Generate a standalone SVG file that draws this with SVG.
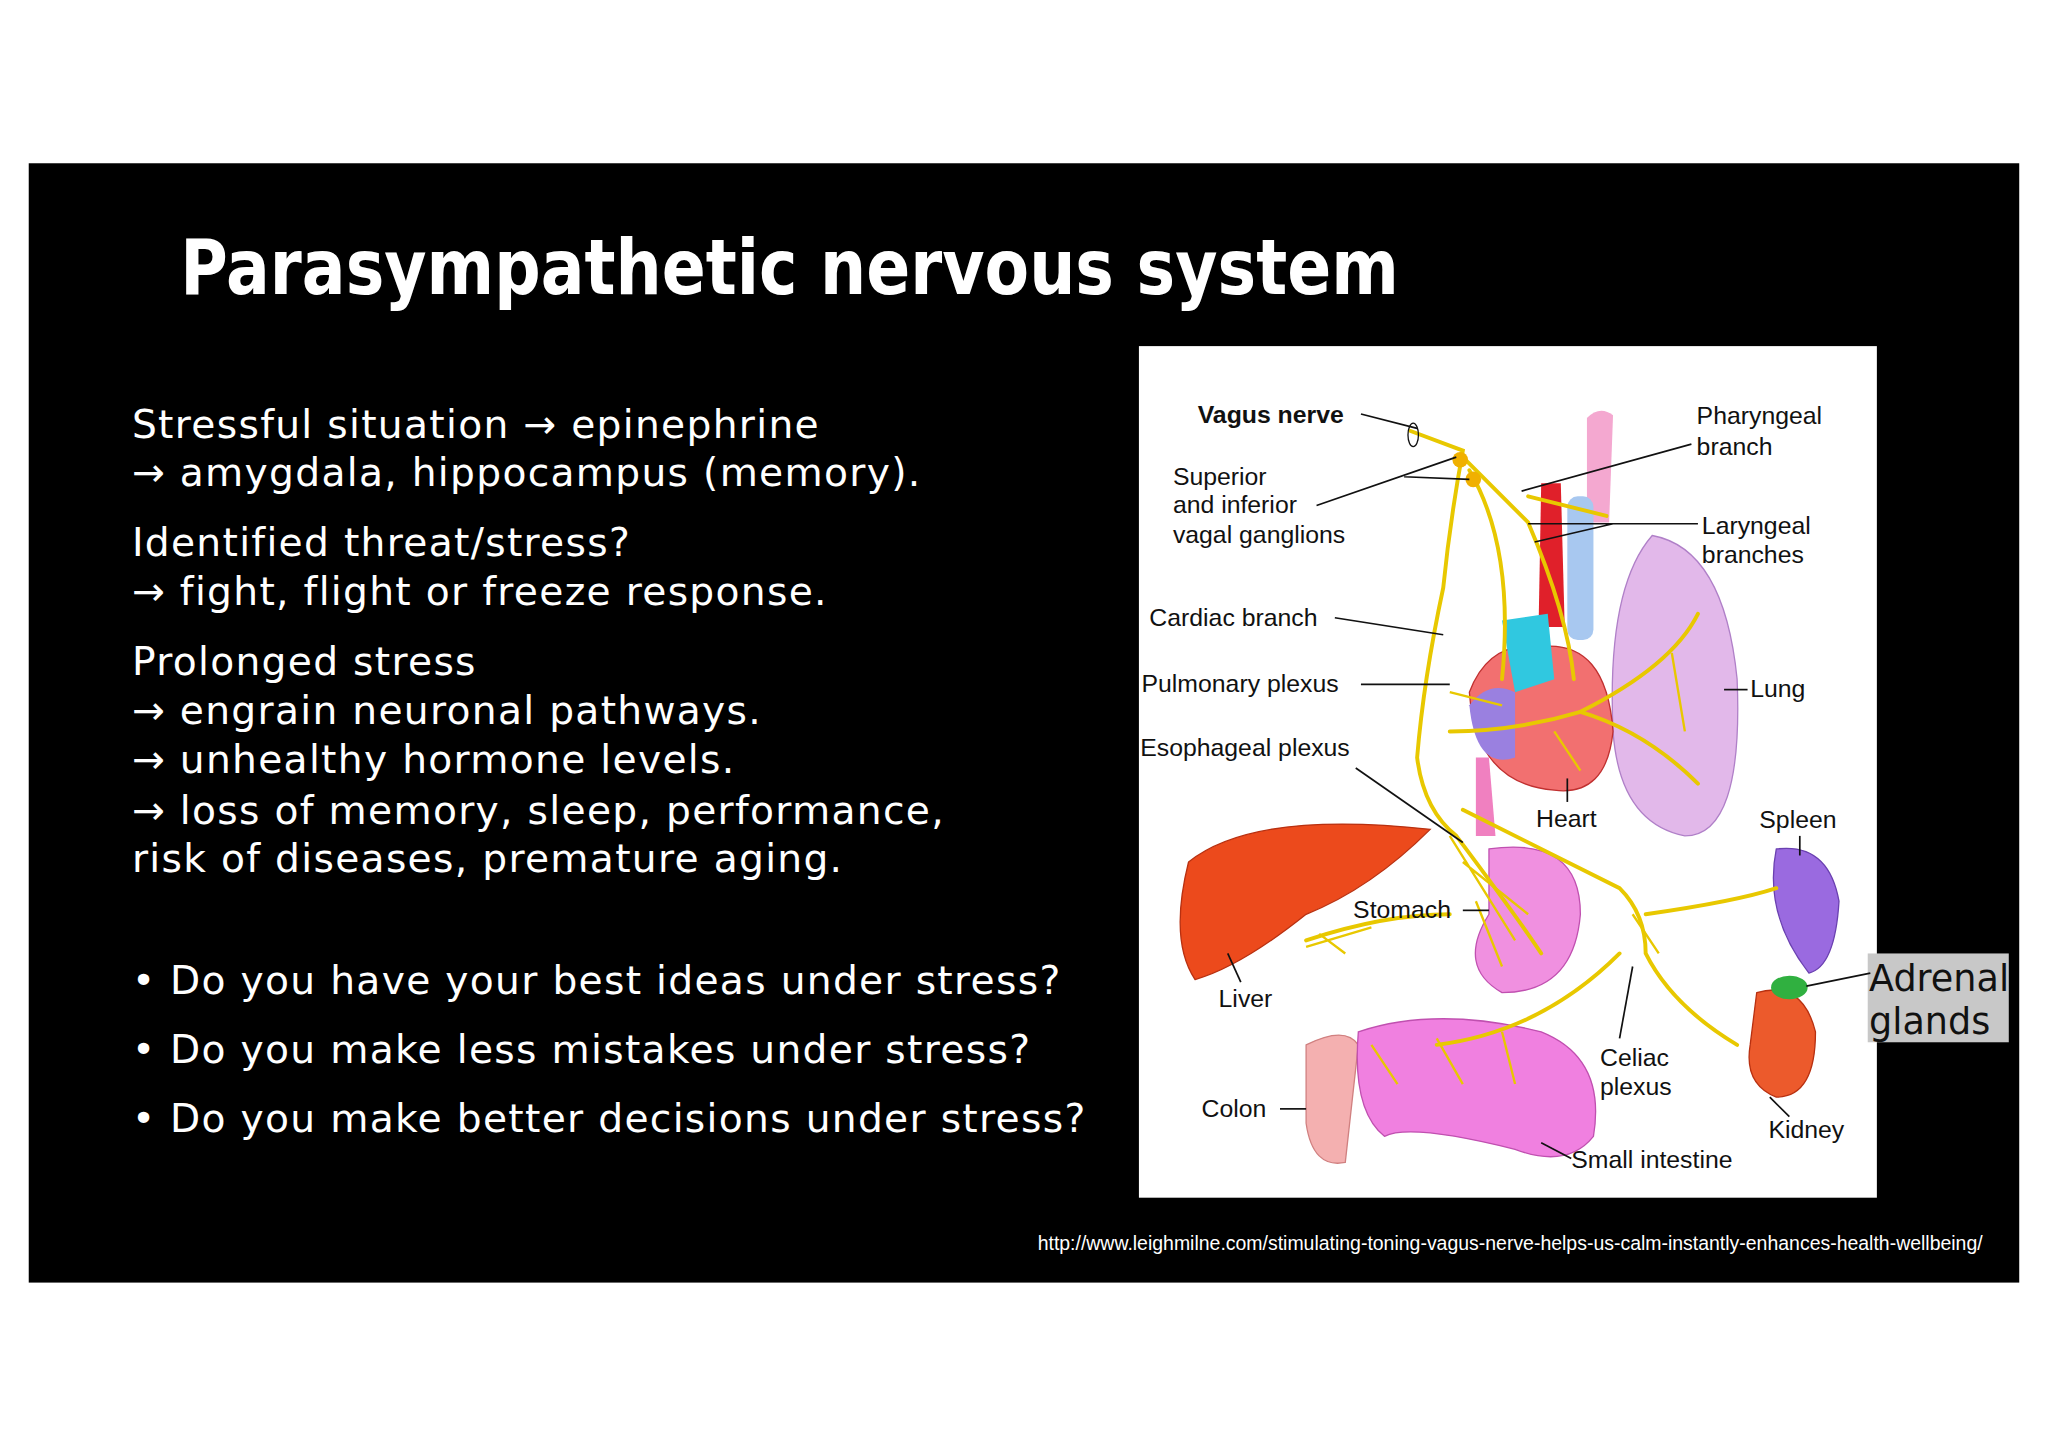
<svg xmlns="http://www.w3.org/2000/svg" width="2048" height="1447" viewBox="0 0 2048 1447">
<style>
.b{font-family:"DejaVu Sans",Verdana,sans-serif;font-size:30px;fill:#fff;letter-spacing:1px}
.l{font-family:"Liberation Sans",Arial,sans-serif;font-size:19px;fill:#111}
.ld{stroke:#111;stroke-width:1.3;fill:none}
.n{stroke:#e8c800;stroke-width:3;fill:none;stroke-linecap:round}
.nt{stroke:#e8c800;stroke-width:1.8;fill:none}
</style>
<rect width="2048" height="1447" fill="#fff"/>
<g transform="scale(1.3061)">
<rect id="slide" x="22" y="125" width="1524" height="857" fill="#000"/>
<text id="title" x="138" y="225" font-family="DejaVu Sans,sans-serif" font-weight="bold" font-size="58" fill="#fff" textLength="933" lengthAdjust="spacingAndGlyphs">Parasympathetic nervous system</text>
<g id="body">
<text class="b" x="101" y="335">Stressful situation → epinephrine</text>
<text class="b" x="101" y="372">→ amygdala, hippocampus (memory).</text>
<text class="b" x="101" y="426">Identified threat/stress?</text>
<text class="b" x="101" y="463">→ fight, flight or freeze response.</text>
<text class="b" x="101" y="517">Prolonged stress</text>
<text class="b" x="101" y="554">→ engrain neuronal pathways.</text>
<text class="b" x="101" y="592">→ unhealthy hormone levels.</text>
<text class="b" x="101" y="631">→ loss of memory, sleep, performance,</text>
<text class="b" x="101" y="668">risk of diseases, premature aging.</text>
<text class="b" x="101" y="761">•  Do you have your best ideas under stress?</text>
<text class="b" x="101" y="814">•  Do you make less mistakes under stress?</text>
<text class="b" x="101" y="867">•  Do you make better decisions under stress?</text>
</g>
<text id="url" x="1518" y="957" text-anchor="end" font-family="Liberation Sans,Arial,sans-serif" font-size="14.9" fill="#fff">http://www.leighmilne.com/stimulating-toning-vagus-nerve-helps-us-calm-instantly-enhances-health-wellbeing/</text>
<g id="figure">
<rect x="872" y="265" width="565" height="652" fill="#fff"/>
<path d="M1215 320 Q1225 310 1235 318 L1232 400 L1215 400 Z" fill="#f4a8d0"/>
<rect x="1200" y="380" width="20" height="110" rx="8" fill="#a8c8f0"/>
<path d="M1180 370 L1195 370 L1198 480 L1178 480 Z" fill="#e0202a"/>
<path d="M1265 410 Q1320 420 1330 520 Q1335 640 1290 640 Q1240 630 1235 560 Q1230 450 1265 410 Z" fill="#e2b8ea" stroke="#b080c8"/>
<path d="M1125 530 Q1140 490 1180 495 Q1230 490 1235 560 Q1230 610 1190 605 Q1130 600 1125 530 Z" fill="#f27070" stroke="#c03030"/>
<path d="M1150 475 L1185 470 L1190 520 L1160 530 Z" fill="#30c8e0"/>
<path d="M1125 540 Q1140 520 1160 530 L1160 580 Q1130 590 1125 540 Z" fill="#9a80e0"/>
<path d="M1130 580 L1140 580 L1145 640 L1130 640 Z" fill="#f080c0"/>
<path d="M910 660 Q960 620 1095 635 Q1050 680 1000 700 Q950 740 915 750 Q895 720 910 660 Z" fill="#ec4a1c" stroke="#b83010"/>
<path d="M1140 650 Q1210 640 1210 700 Q1205 760 1150 760 Q1115 740 1140 700 Z" fill="#f090e0" stroke="#c050b0"/>
<path d="M1360 650 Q1400 645 1408 690 Q1405 740 1385 745 Q1350 700 1360 650 Z" fill="#9a6ae0" stroke="#6a40b0"/>
<path d="M1345 760 Q1380 750 1390 790 Q1390 840 1360 840 Q1335 830 1340 800 Z" fill="#ec5a2c" stroke="#b83010"/>
<ellipse cx="1370" cy="756" rx="14" ry="9" fill="#30b040"/>
<path d="M1000 800 Q1030 785 1040 800 L1030 890 Q1005 895 1000 860 Z" fill="#f4b0b0" stroke="#d08080"/>
<path d="M1040 790 Q1100 770 1180 790 Q1230 810 1220 870 Q1200 895 1160 880 Q1080 860 1060 870 Q1035 850 1040 790 Z" fill="#f080e0" stroke="#c050b0"/>
<path class="n" d="M1080 330 L1120 345 Q1110 400 1105 450 Q1090 520 1085 580 Q1090 620 1115 640 Q1160 700 1180 730"/>
<path class="n" d="M1120 350 Q1150 380 1170 400 Q1200 470 1205 520 M1125 360 Q1160 420 1150 520 M1170 380 L1230 395"/>
<path class="n" d="M1110 560 Q1160 560 1210 545 Q1280 510 1300 470 M1210 545 Q1260 560 1300 600"/>
<path class="n" d="M1120 620 Q1200 660 1240 680 Q1260 700 1260 730 Q1280 770 1330 800 M1260 700 Q1330 690 1360 680 M1240 730 Q1180 790 1100 800 M1000 720 Q1060 700 1110 700"/>
<path class="nt" d="M1110 640 L1160 720 M1120 660 L1170 700 M1130 690 L1150 740 M1000 725 L1050 710 M1010 715 L1030 730 M1050 800 L1070 830 M1100 795 L1120 830 M1150 790 L1160 830 M1250 700 L1270 730 M1110 530 L1150 540 M1190 560 L1210 590 M1280 500 L1290 560"/>
<circle cx="1118" cy="352" r="6" fill="#f0b000"/><circle cx="1128" cy="367" r="6" fill="#f0b000"/>
<ellipse cx="1082" cy="333" rx="4" ry="9" fill="none" stroke="#111"/>
<text class="l" x="917" y="324" font-weight="bold">Vagus nerve</text>
<path class="ld" d="M1042 317 L1085 328"/>
<text class="l" x="898" y="371">Superior</text><text class="l" x="898" y="393">and inferior</text><text class="l" x="898" y="416">vagal ganglions</text>
<path class="ld" d="M1008 387 L1115 350 M1075 365 L1125 367"/>
<text class="l" x="1299" y="325">Pharyngeal</text><text class="l" x="1299" y="348">branch</text>
<path class="ld" d="M1295 340 L1165 376"/>
<text class="l" x="1303" y="409">Laryngeal</text><text class="l" x="1303" y="431">branches</text>
<path class="ld" d="M1300 401 L1170 401 M1235 401 L1175 415"/>
<text class="l" x="880" y="479">Cardiac branch</text>
<path class="ld" d="M1022 473 L1105 486"/>
<text class="l" x="874" y="530">Pulmonary plexus</text>
<path class="ld" d="M1042 524 L1110 524"/>
<text class="l" x="1340" y="534">Lung</text><path class="ld" d="M1320 528 L1338 528"/>
<text class="l" x="873" y="579">Esophageal plexus</text>
<path class="ld" d="M1038 588 L1120 645"/>
<text class="l" x="1176" y="633">Heart</text><path class="ld" d="M1200 596 L1200 614"/>
<text class="l" x="1347" y="634">Spleen</text><path class="ld" d="M1378 640 L1378 655"/>
<text class="l" x="1036" y="703">Stomach</text><path class="ld" d="M1120 697 L1140 697"/>
<text class="l" x="933" y="771">Liver</text><path class="ld" d="M950 752 L940 730"/>
<text class="l" x="920" y="855">Colon</text><path class="ld" d="M980 849 L1000 849"/>
<text class="l" x="1225" y="816">Celiac</text><text class="l" x="1225" y="838">plexus</text>
<path class="ld" d="M1240 795 L1250 740"/>
<text class="l" x="1354" y="871">Kidney</text><path class="ld" d="M1370 855 L1355 840"/>
<text class="l" x="1203" y="894">Small intestine</text><path class="ld" d="M1203 887 L1180 875"/>
<rect x="1430" y="730" width="108" height="68" fill="#c8c8c8"/>
<path class="ld" d="M1383 755 L1432 745"/>
<text x="1431" y="759" font-family="DejaVu Sans,sans-serif" font-size="28" fill="#111">Adrenal</text>
<text x="1431" y="792" font-family="DejaVu Sans,sans-serif" font-size="28" fill="#111">glands</text>
</g>
</g>
</svg>
